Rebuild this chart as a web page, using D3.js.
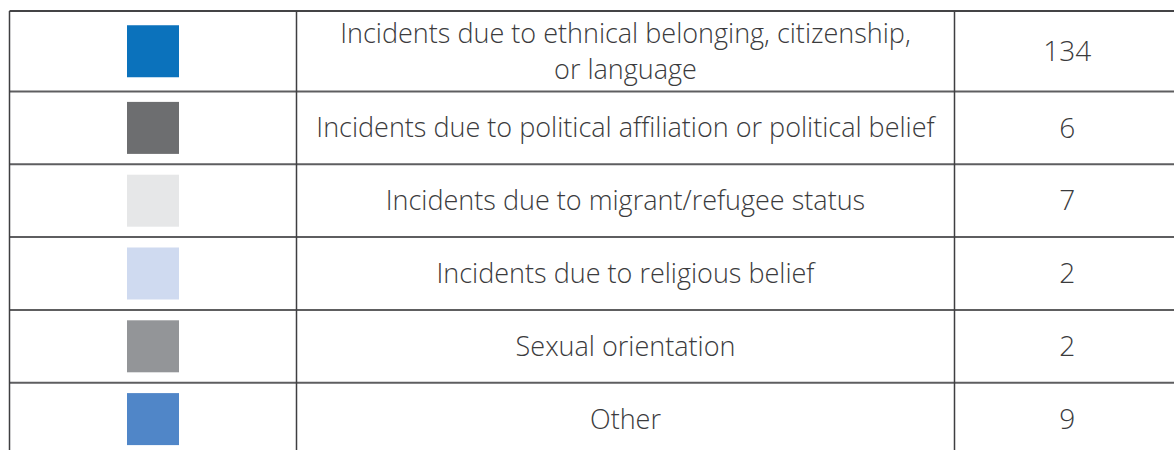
<!DOCTYPE html>
<html>
<head>
<meta charset="utf-8">
<script src="https://cdn.jsdelivr.net/npm/d3@7"></script>
<style>
  html, body { margin: 0; padding: 0; background: #fff; }
  #canvas { width: 1174px; height: 450px; overflow: hidden; }
  text { font-family: "Open Sans", "Noto Sans", sans-serif; font-weight: 300; fill: #3b3b3d; }
</style>
</head>
<body>
<div id="canvas" class="canvas"></div>
<script>
// data
var categories = [
  ["Incidents due to ethnical belonging, citizenship,", "or language"],
  ["Incidents due to political affiliation or political belief"],
  ["Incidents due to migrant/refugee status"],
  ["Incidents due to religious belief"],
  ["Sexual orientation"],
  ["Other"]
];
var counts = [134, 6, 7, 2, 2, 9];
var swatches = ["#0b72bc", "#6d6e70", "#e6e7e8", "#cfdaf0", "#939598", "#5086c8"];

var W = 1174, H = 450;
var m = {t: 11, l: 9.5};
var colEdges = [m.l, 296.5, 954.5, 1180]; // table columns
var baseRow = 72.8, extraLine = 7.7, lineGap = 36;

var svg = d3.select('.canvas').append('svg')
    .attr('width', W).attr('height', H);

// row tops from line counts
var rows = [];
var y0 = m.t;
categories.forEach(function(c, i){
  var hgt = baseRow + (c.length - 1) * extraLine;
  rows.push({label: c, value: counts[i], color: swatches[i], y: y0, h: hgt});
  y0 += hgt;
});

var x = d3.scaleOrdinal().domain(['swatch','label','value'])
    .range([ (colEdges[0]+colEdges[1])/2, (colEdges[1]+colEdges[2])/2, (colEdges[2]+colEdges[3])/2 ]);

var row = svg.selectAll('.row').data(rows).enter()
    .append('g').attr('class','row')
    .attr('transform', function(d){ return 'translate(0,' + d.y + ')'; });

// swatch squares
var sq = 52;
row.append('rect')
    .attr('x', x('swatch') - sq/2)
    .attr('y', function(d){ return d.h/2 - sq/2; })
    .attr('width', sq).attr('height', sq)
    .style('fill', function(d){ return d.color; });

// labels
row.each(function(d){
  var g = d3.select(this);
  var n = d.label.length;
  d.label.forEach(function(line, j){
    g.append('text')
      .attr('x', x('label'))
      .attr('y', d.h/2 + (j - (n-1)/2) * lineGap)
      .attr('dy', '0.35em')
      .attr('text-anchor', 'middle')
      .style('font-size', '27px')
      .text(line);
  });
});

// values
row.append('text')
    .attr('x', x('value'))
    .attr('y', function(d){ return d.h/2; })
    .attr('dy', '0.35em')
    .attr('text-anchor', 'middle')
    .style('font-size', '28px')
    .text(function(d){ return d.value; });

// grid lines
var bottom = y0;
var hl = rows.map(function(d){ return d.y; }).concat([bottom]);
svg.selectAll('.hline').data(hl).enter()
    .append('line').attr('class','hline')
    .attr('x1', colEdges[0]).attr('x2', W)
    .attr('y1', function(d){ return d; }).attr('y2', function(d){ return d; })
    .style('stroke', function(d, i){ return i === 0 ? '#444446' : '#5e5e60'; })
    .style('stroke-width', 2);

svg.selectAll('.vline').data(colEdges.slice(0,3)).enter()
    .append('line').attr('class','vline')
    .attr('x1', function(d){ return d; }).attr('x2', function(d){ return d; })
    .attr('y1', m.t).attr('y2', bottom)
    .style('stroke', '#3f3f41').style('stroke-width', 1.5);
</script>
</body>
</html>
